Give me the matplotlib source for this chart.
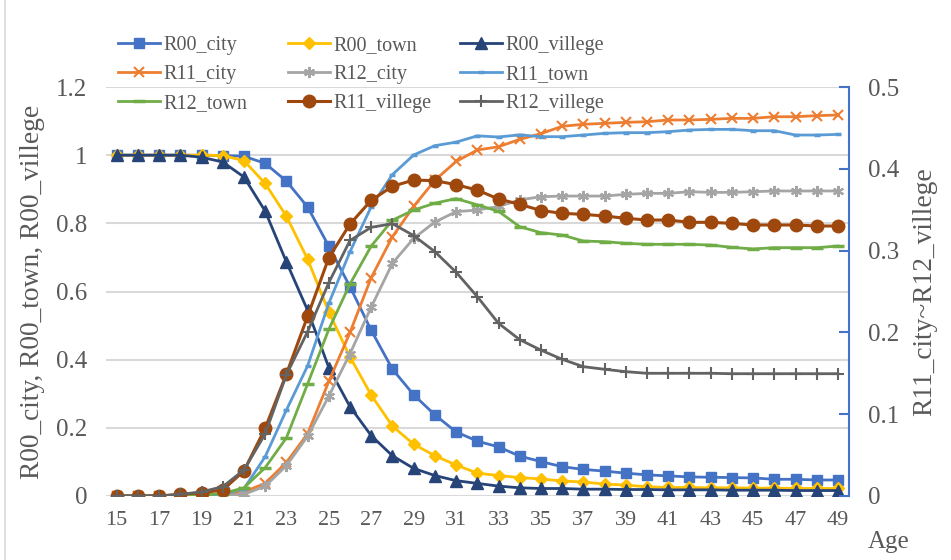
import matplotlib.pyplot as plt
from matplotlib.lines import Line2D

plt.rcParams['font.family'] = ['Liberation Serif', 'DejaVu Serif']

ages = list(range(15, 50))

# probabilidades (eixo da esquerda)
r00_city = [1.0, 1.0, 1.0, 1.0, 1.0, 0.999, 0.997, 0.976, 0.924, 0.848, 0.733, 0.614, 0.486,
            0.372, 0.297, 0.238, 0.188, 0.161, 0.144, 0.117, 0.101, 0.086, 0.078, 0.073, 0.067,
            0.062, 0.059, 0.056, 0.055, 0.054, 0.053, 0.049, 0.049, 0.047, 0.047]
r00_town = [1.0, 1.0, 1.0, 1.0, 1.0, 0.999, 0.984, 0.917, 0.821, 0.695, 0.540, 0.408, 0.296,
            0.205, 0.152, 0.118, 0.091, 0.067, 0.060, 0.054, 0.050, 0.044, 0.041, 0.035, 0.032,
            0.027, 0.025, 0.025, 0.024, 0.024, 0.023, 0.023, 0.022, 0.022, 0.022]
r00_villege = [1.0, 1.0, 1.0, 1.0, 0.994, 0.980, 0.936, 0.836, 0.687, 0.545, 0.377, 0.262, 0.177,
               0.118, 0.081, 0.060, 0.045, 0.037, 0.029, 0.024, 0.022, 0.022, 0.020, 0.020, 0.019,
               0.019, 0.018, 0.018, 0.018, 0.017, 0.017, 0.017, 0.016, 0.016, 0.016]

# taxas (eixo da direita)
r11_city = [0.0, 0.0, 0.0, 0.0005, 0.001, 0.002, 0.005, 0.0155, 0.041, 0.076, 0.140, 0.200, 0.267,
            0.317, 0.354, 0.386, 0.409, 0.423, 0.427, 0.436, 0.443, 0.452, 0.4544, 0.4556, 0.4568,
            0.4576, 0.4597, 0.4597, 0.4605, 0.4617, 0.4617, 0.4637, 0.4637, 0.465, 0.4658]
r12_city = [0.0, 0.0, 0.0, 0.0, 0.0005, 0.001, 0.002, 0.012, 0.037, 0.073, 0.122, 0.174, 0.231,
            0.2845, 0.315, 0.335, 0.3476, 0.3496, 0.354, 0.362, 0.3659, 0.3667, 0.3667, 0.3667, 0.3688,
            0.370, 0.370, 0.372, 0.3712, 0.3712, 0.372, 0.3729, 0.3729, 0.3729, 0.3729]
r11_town = [0.0, 0.0, 0.0, 0.0005, 0.001, 0.002, 0.009, 0.048, 0.105, 0.159, 0.2355, 0.2987, 0.3537,
            0.393, 0.4169, 0.4283, 0.4326, 0.4403, 0.4389, 0.4415, 0.4393, 0.4393, 0.4413, 0.4434, 0.4442,
            0.4442, 0.4454, 0.4474, 0.4482, 0.4482, 0.4466, 0.4466, 0.4413, 0.4413, 0.4421]
r12_town = [0.0, 0.0, 0.0, 0.0005, 0.001, 0.003, 0.010, 0.0346, 0.071, 0.137, 0.2037, 0.2592, 0.3056,
            0.3372, 0.3496, 0.358, 0.3636, 0.356, 0.348, 0.3292, 0.3219, 0.319, 0.3117, 0.3109, 0.3089,
            0.3077, 0.3077, 0.3077, 0.3068, 0.304, 0.302, 0.3036, 0.3036, 0.3036, 0.3056]
r11_villege = [0.0, 0.0, 0.0, 0.002, 0.004, 0.0073, 0.0306, 0.0828, 0.149, 0.2196, 0.2913, 0.3325, 0.3615,
               0.3786, 0.3863, 0.3855, 0.3806, 0.374, 0.3631, 0.3566, 0.349, 0.3456, 0.3443, 0.3423, 0.3395,
               0.3374, 0.3374, 0.3346, 0.3346, 0.3333, 0.3313, 0.3313, 0.3313, 0.3301, 0.3301]
r12_villege = [0.0, 0.0, 0.0, 0.002, 0.005, 0.0114, 0.0318, 0.0758, 0.148, 0.2009, 0.2608, 0.3124, 0.3285,
               0.3329, 0.3184, 0.2987, 0.2736, 0.2437, 0.2111, 0.1911, 0.1783, 0.1671, 0.1581, 0.1549, 0.152,
               0.150, 0.150, 0.150, 0.150, 0.1495, 0.1495, 0.1495, 0.1495, 0.1495, 0.1495]

texto = '#595959'
W, H = 951, 560

fig = plt.figure(figsize=(W / 100, H / 100), dpi=100)
ax = fig.add_axes([0.1115, 0.1143, 0.7808, 0.7303])
ax2 = ax.twinx()

# R00 no eixo da esquerda
ax.plot(ages, r00_city, color='#4472C4', lw=2, marker='s', ms=7.5, label='R00_city', zorder=3)
ax.plot(ages, r00_town, color='#FFC000', lw=2, marker='D', ms=6, label='R00_town', zorder=3)
ax.plot(ages, r00_villege, color='#264478', lw=2, marker='^', ms=8, label='R00_villege', zorder=3)

# R11/R12 no eixo da direita
ax2.plot(ages, r11_city, color='#ED7D31', lw=2, marker='x', ms=7, mew=1.5, label='R11_city')
ax2.plot(ages, r12_city, color='#A5A5A5', lw=2, marker=(6, 2, 0), ms=8, mew=1.5, label='R12_city')
ax2.plot(ages, r11_town, color='#5B9BD5', lw=2, marker='_', ms=5, mew=2.5, label='R11_town')
ax2.plot(ages, r12_town, color='#70AD47', lw=2, marker='_', ms=8, mew=2.5, label='R12_town')
ax2.plot(ages, r11_villege, color='#9E480E', lw=2.2, marker='o', ms=9, label='R11_villege')
ax2.plot(ages, r12_villege, color='#636363', lw=2, marker='+', ms=8, mew=1.5, label='R12_villege')

ax.set_xlim(14.5, 49.5)
ax.set_ylim(0, 1.2)
ax2.set_ylim(0, 0.5)

ax.set_yticks([0, 0.2, 0.4, 0.6, 0.8, 1.0, 1.2])
ax.set_yticklabels(['0', '0.2', '0.4', '0.6', '0.8', '1', '1.2'])
ax2.set_yticks([0, 0.1, 0.2, 0.3, 0.4, 0.5])
ax2.set_yticklabels(['0', '0.1', '0.2', '0.3', '0.4', '0.5'])
ax.set_xticks(ages[::2])

ax.grid(axis='y', color='#D9D9D9', lw=1.5, zorder=0)
ax.set_axisbelow(True)

for a in (ax, ax2):
    for s in ('top', 'left', 'bottom', 'right'):
        a.spines[s].set_visible(False)
ax2.spines['right'].set_visible(True)
ax2.spines['right'].set_color('#4472C4')
ax2.spines['right'].set_linewidth(1.5)

ax.tick_params(axis='both', length=0, labelcolor=texto)
ax.tick_params(axis='y', pad=13.5, labelsize=18)
ax.tick_params(axis='x', pad=11, labelsize=16)
ax2.tick_params(axis='y', direction='in', length=7, width=1.5, color='#4472C4',
                labelsize=18, labelcolor=texto, pad=14)

ax.set_ylabel('R00_city, R00_town, R00_villege', fontsize=19.8, color=texto)
ax.yaxis.set_label_coords(-0.082, 0.5)
ax2.set_ylabel('R11_city~R12_villege', fontsize=19.8, color=texto)
ax2.yaxis.set_label_coords(1.085, 0.5)
fig.text(868 / W, 1 - 548 / H, 'Age', fontsize=18, color=texto, ha='left', va='baseline')

# legenda em três colunas, cada uma com posição própria
h1, l1 = ax.get_legend_handles_labels()
h2, l2 = ax2.get_legend_handles_labels()
hd = dict(zip(l1 + l2, h1 + h2))
colunas = [(118, ['R00_city', 'R11_city', 'R12_town']),
           (288, ['R00_town', 'R12_city', 'R11_villege']),
           (460, ['R00_villege', 'R11_town', 'R12_villege'])]
for x0, nomes in colunas:
    leg = fig.legend([hd[k] for k in nomes], nomes, frameon=False,
                     loc='upper left', bbox_to_anchor=(x0 / W, 1 - 36 / H),
                     fontsize=14.5, handlelength=2.1, handletextpad=0.15,
                     labelspacing=0.5, borderaxespad=0, borderpad=0)
    for t in leg.get_texts():
        t.set_color(texto)

# moldura do gráfico
fig.add_artist(Line2D([5 / W, 5 / W], [0, 1], color='#D9D9D9', lw=1.2))

fig.savefig('out.png', dpi=100)
